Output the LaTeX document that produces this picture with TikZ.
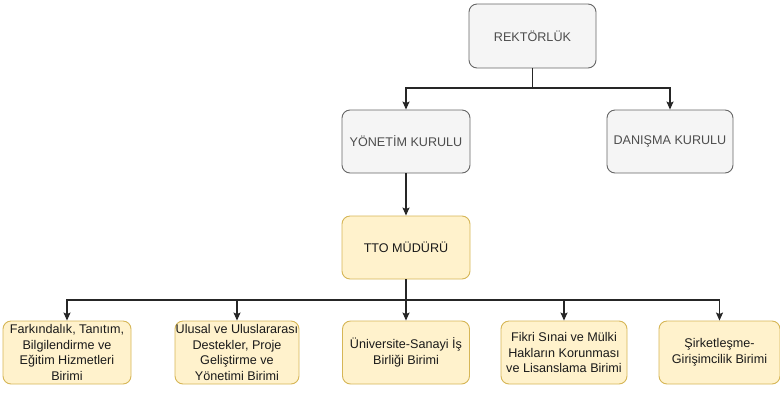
\documentclass[tikz,border=0pt]{standalone}
\usepackage{fontspec}
\setmainfont{Liberation Sans}
\usetikzlibrary{arrows.meta}
\definecolor{grayfill}{HTML}{F5F5F5}
\definecolor{grayline}{HTML}{666666}
\definecolor{yelfill}{HTML}{FFF2CC}
\definecolor{yelline}{HTML}{D6B656}
\definecolor{graytxt}{HTML}{4D4D4D}
\definecolor{txt}{HTML}{1A1A1A}
\begin{document}
\begin{tikzpicture}[x=1pt,y=-1pt,
  box/.style={draw, rounded corners=8pt, line width=0.9pt, inner sep=0pt, align=center,
    font=\fontsize{12.6}{15.5}\selectfont},
  graybox/.style={box, fill=grayfill, draw=grayline, text=graytxt},
  yelbox/.style={box, fill=yelfill, draw=yelline, text=txt},
  arr/.style={line width=1.2pt, draw=black!85, -{Stealth[length=8pt,width=7pt,inset=1.5pt]}}]
\useasboundingbox (0,0) rectangle (780,392);
\node[graybox, minimum width=127pt, minimum height=64pt] (rek) at (532.5,36) {REKTÖRLÜK};
\node[graybox, minimum width=128pt, minimum height=63pt] (yon) at (406,141.5) {YÖNETİM KURULU};
\node[graybox, minimum width=126pt, minimum height=63pt] (dan) at (670,141.5) {DANIŞMA KURULU};
\node[yelbox, minimum width=128pt, minimum height=63pt] (tto) at (406,247.5) {TTO MÜDÜRÜ};
\node[yelbox, minimum width=128pt, minimum height=63pt] (b1) at (67,352.5) {Farkındalık, Tanıtım,\\Bilgilendirme ve\\Eğitim Hizmetleri\\Birimi};
\node[yelbox, minimum width=124pt, minimum height=63pt] (b2) at (237,352.5) {Ulusal ve Uluslararası\\Destekler, Proje\\Geliştirme ve\\Yönetimi Birimi};
\node[yelbox, minimum width=127pt, minimum height=63pt] (b3) at (406,352.5) {Üniversite-Sanayi İş\\Birliği Birimi};
\node[yelbox, minimum width=126pt, minimum height=63pt] (b4) at (564,352.5) {Fikri Sınai ve Mülki\\Hakların Korunması\\ve Lisanslama Birimi};
\node[yelbox, minimum width=121pt, minimum height=63pt] (b5) at (719.5,352.5) {Şirketleşme-\\Girişimcilik Birimi};
\coordinate (j1) at (532.5,88);
\coordinate (j2) at (406,300);
\draw[arr] (rek.south) -- (j1) -| (yon.north);
\draw[arr] (rek.south) -- (j1) -| (dan.north);
\draw[arr] (yon.south) -- (tto.north);
\draw[arr] (tto.south) -- (j2) -| (b1.north);
\draw[arr] (tto.south) -- (j2) -| (b2.north);
\draw[arr] (tto.south) -- (b3.north);
\draw[arr] (tto.south) -- (j2) -| (b4.north);
\draw[arr] (tto.south) -- (j2) -| (b5.north);
\end{tikzpicture}
\end{document}
